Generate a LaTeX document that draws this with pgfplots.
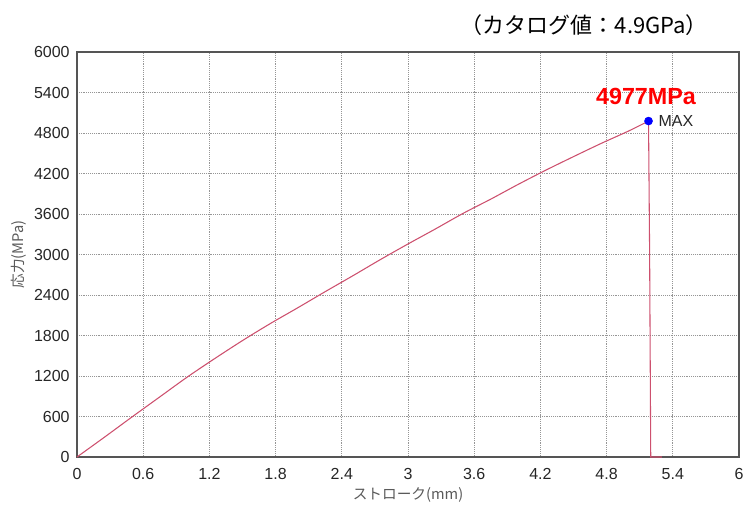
\documentclass[border=0pt]{standalone}
\usepackage{pgfplots}
\pgfplotsset{compat=1.18}
\usepackage{fontspec}
\setmainfont{Liberation Sans}
\newfontfamily\cjk{Noto Sans CJK JP}
\definecolor{curve}{RGB}{205,80,110}
\definecolor{frame}{RGB}{85,85,85}
\definecolor{gridc}{RGB}{150,150,150}
\definecolor{lab}{RGB}{90,90,90}
\definecolor{maxred}{RGB}{255,0,0}
\begin{document}
\begin{tikzpicture}
\begin{axis}[
  scale only axis,
  width=496.5pt, height=303.75pt,
  xmin=0, xmax=6, ymin=0, ymax=6000,
  xtick={0,0.6,1.2,1.8,2.4,3,3.6,4.2,4.8,5.4,6},
  xticklabels={0,0.6,1.2,1.8,2.4,3,3.6,4.2,4.8,5.4,6},
  ytick={0,600,1200,1800,2400,3000,3600,4200,4800,5400,6000},
  yticklabels={0,600,1200,1800,2400,3000,3600,4200,4800,5400,6000},
  major tick length=0pt,
  grid=major,
  major grid style={densely dotted, gridc, line width=0.6pt},
  axis line style={frame, line width=1pt},
  tick label style={font=\fontsize{12}{14}\selectfont, text=black!85},
  xticklabel style={yshift=-5pt},
  yticklabel style={xshift=-2pt},
  xlabel={\cjk ストローク(mm)},
  ylabel={\cjk 応力(MPa)},
  label style={font=\fontsize{11}{13}\selectfont, text=lab},
  xlabel style={yshift=1pt},
  ylabel style={yshift=-1pt},
  clip=false,
]
\addplot[curve, line width=0.8pt, smooth, tension=0.5] coordinates {
(0,0) (0.25,295) (0.5,595) (0.75,890) (1.0,1185) (1.25,1460) (1.5,1725)
(1.75,1975) (2.0,2210) (2.25,2450) (2.5,2685) (2.75,2925) (3.0,3156)
(3.25,3380) (3.5,3610) (3.75,3820) (4.0,4040) (4.25,4250) (4.5,4450)
(4.75,4645) (5.0,4830) (5.18,4977)
};
\addplot[curve, line width=0.8pt] coordinates {
(5.18,4977) (5.19,3000) (5.20,0) (5.30,0)
};
\addplot[only marks, mark=*, mark size=3pt, blue] coordinates {(5.18,4977)};
\node[anchor=west, font=\fontsize{12}{14}\selectfont, text=black!85, xshift=4pt] at (axis cs:5.18,4977) {MAX};
\node[font=\bfseries\fontsize{17.5}{20}\selectfont, text=maxred] at (axis cs:5.157,5348) {4977MPa};
\end{axis}
\node[font=\cjk\fontsize{16.5}{19}\selectfont] at ([shift={(380.5pt,324pt)}]current axis.south west) {（カタログ値：4.9GPa）};
\useasboundingbox ([shift={(-57.75pt,-39pt)}]current axis.south west) rectangle ([shift={(503.25pt,342.75pt)}]current axis.south west);
\end{tikzpicture}
\end{document}
